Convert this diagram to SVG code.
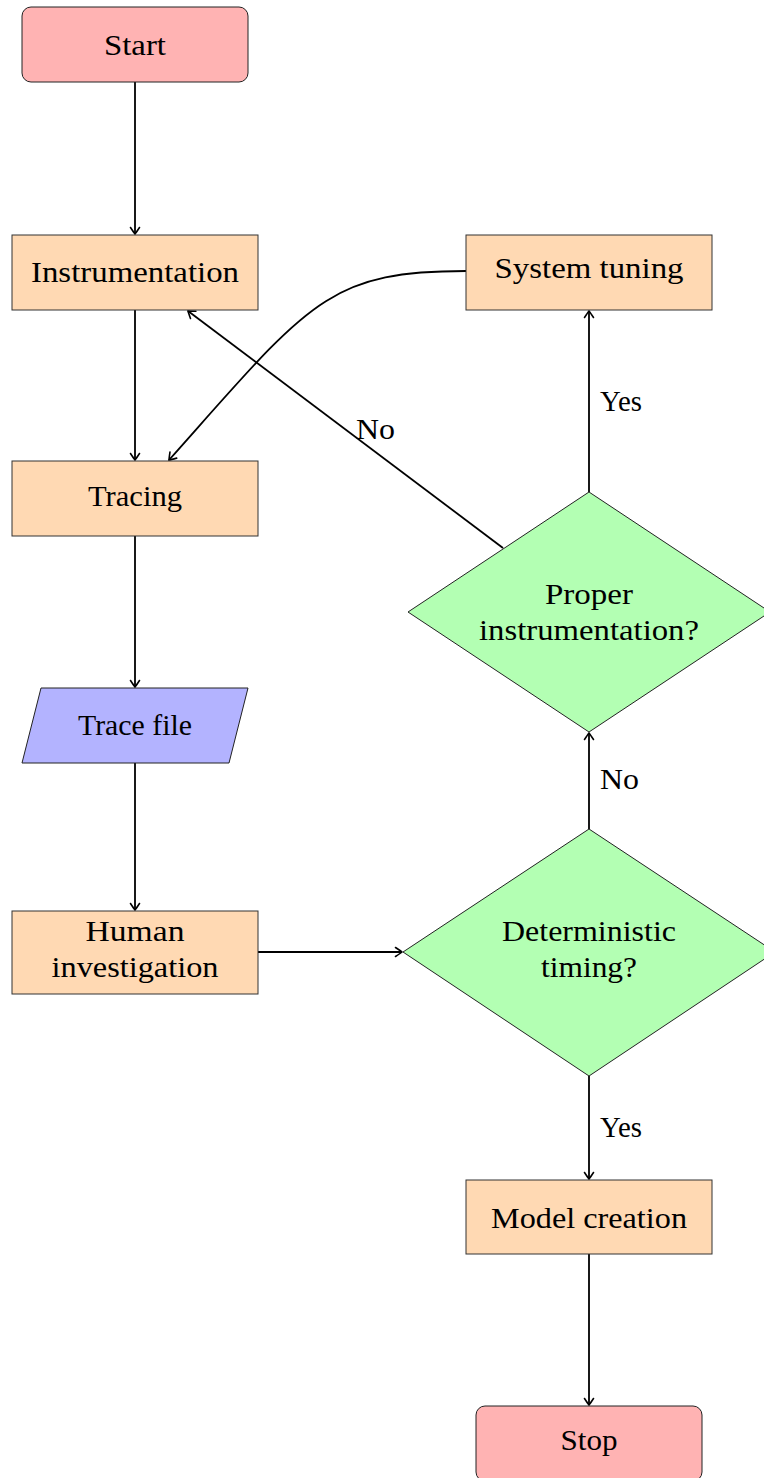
<svg xmlns="http://www.w3.org/2000/svg" width="764" height="1478" viewBox="0 0 764 1478">
<style>
text{font-family:"Liberation Serif","Times New Roman",serif;font-size:29px;fill:#000;text-anchor:middle}
.lbl{text-anchor:start}
.box{fill:#ffd9b3;stroke:#333;stroke-width:1}
.term{fill:#ffb3b3;stroke:#222;stroke-width:1}
.io{fill:#b3b3ff;stroke:#222;stroke-width:1}
.dec{fill:#b3ffb3;stroke:#222;stroke-width:1}
.edge{fill:none;stroke:#000;stroke-width:1.8;marker-end:url(#arr)}
</style>
<defs>
<marker id="arr" viewBox="-8 -6 10 12" refX="0" refY="0" markerWidth="10" markerHeight="12" markerUnits="userSpaceOnUse" orient="auto">
<path d="M-6.5,-4.5 Q-1.5,-1.2 0,0 Q-1.5,1.2 -6.5,4.5" fill="none" stroke="#000" stroke-width="1.6" stroke-linecap="round"/>
</marker>
</defs>
<rect width="764" height="1478" fill="#fff"/>
<g id="connectors">
<line class="edge" x1="135" y1="82" x2="135" y2="234"/>
<line class="edge" x1="135" y1="310" x2="135" y2="460"/>
<line class="edge" x1="135" y1="536" x2="135" y2="687"/>
<line class="edge" x1="135" y1="763" x2="135" y2="910"/>
<line class="edge" x1="258" y1="952" x2="402" y2="952"/>
<line class="edge" x1="589" y1="829" x2="589" y2="733"/>
<line class="edge" x1="589" y1="1076" x2="589" y2="1179"/>
<line class="edge" x1="589" y1="492" x2="589" y2="311"/>
<line class="edge" x1="503" y1="548" x2="188" y2="311"/>
<line class="edge" x1="589" y1="1254" x2="589" y2="1405"/>
<path class="edge" d="M466,271 C326,271 308,304 169,460"/>
<text class="lbl" x="600" y="789" textLength="39" lengthAdjust="spacingAndGlyphs">No</text>
<text class="lbl" x="600" y="1137" textLength="42" lengthAdjust="spacingAndGlyphs">Yes</text>
<text class="lbl" x="600" y="411" textLength="42" lengthAdjust="spacingAndGlyphs">Yes</text>
<text class="lbl" x="356" y="439" textLength="39" lengthAdjust="spacingAndGlyphs">No</text>
</g>
<g id="start"><rect class="term" x="22" y="7" width="226" height="75" rx="9"/><text x="135" y="55" textLength="62" lengthAdjust="spacingAndGlyphs">Start</text></g>
<g id="instrumentation"><rect class="box" x="12" y="235" width="246" height="75"/><text x="135" y="282" textLength="208" lengthAdjust="spacingAndGlyphs">Instrumentation</text></g>
<g id="tracing"><rect class="box" x="12" y="461" width="246" height="75"/><text x="135" y="506" textLength="94" lengthAdjust="spacingAndGlyphs">Tracing</text></g>
<g id="tracefile"><polygon class="io" points="41,688 248,688 229,763 22,763"/><text x="135" y="735" textLength="114" lengthAdjust="spacingAndGlyphs">Trace file</text></g>
<g id="human"><rect class="box" x="12" y="911" width="246" height="83"/><text x="135" y="941" textLength="99" lengthAdjust="spacingAndGlyphs">Human</text><text x="135" y="977" textLength="167" lengthAdjust="spacingAndGlyphs">investigation</text></g>
<g id="deterministic"><polygon class="dec" points="589,829 775,952 589,1076 403,952"/><text x="589" y="941" textLength="174" lengthAdjust="spacingAndGlyphs">Deterministic</text><text x="589" y="977" textLength="96" lengthAdjust="spacingAndGlyphs">timing?</text></g>
<g id="proper"><polygon class="dec" points="589,492 770,612 589,732 408,612"/><text x="589" y="604" textLength="88" lengthAdjust="spacingAndGlyphs">Proper</text><text x="589" y="640" textLength="220" lengthAdjust="spacingAndGlyphs">instrumentation?</text></g>
<g id="tuning"><rect class="box" x="466" y="235" width="246" height="75"/><text x="589" y="278" textLength="189" lengthAdjust="spacingAndGlyphs">System tuning</text></g>
<g id="model"><rect class="box" x="466" y="1180" width="246" height="74"/><text x="589" y="1228" textLength="196" lengthAdjust="spacingAndGlyphs">Model creation</text></g>
<g id="stop"><rect class="term" x="476" y="1406" width="226" height="75" rx="9"/><text x="589" y="1450" textLength="57" lengthAdjust="spacingAndGlyphs">Stop</text></g>
</svg>
